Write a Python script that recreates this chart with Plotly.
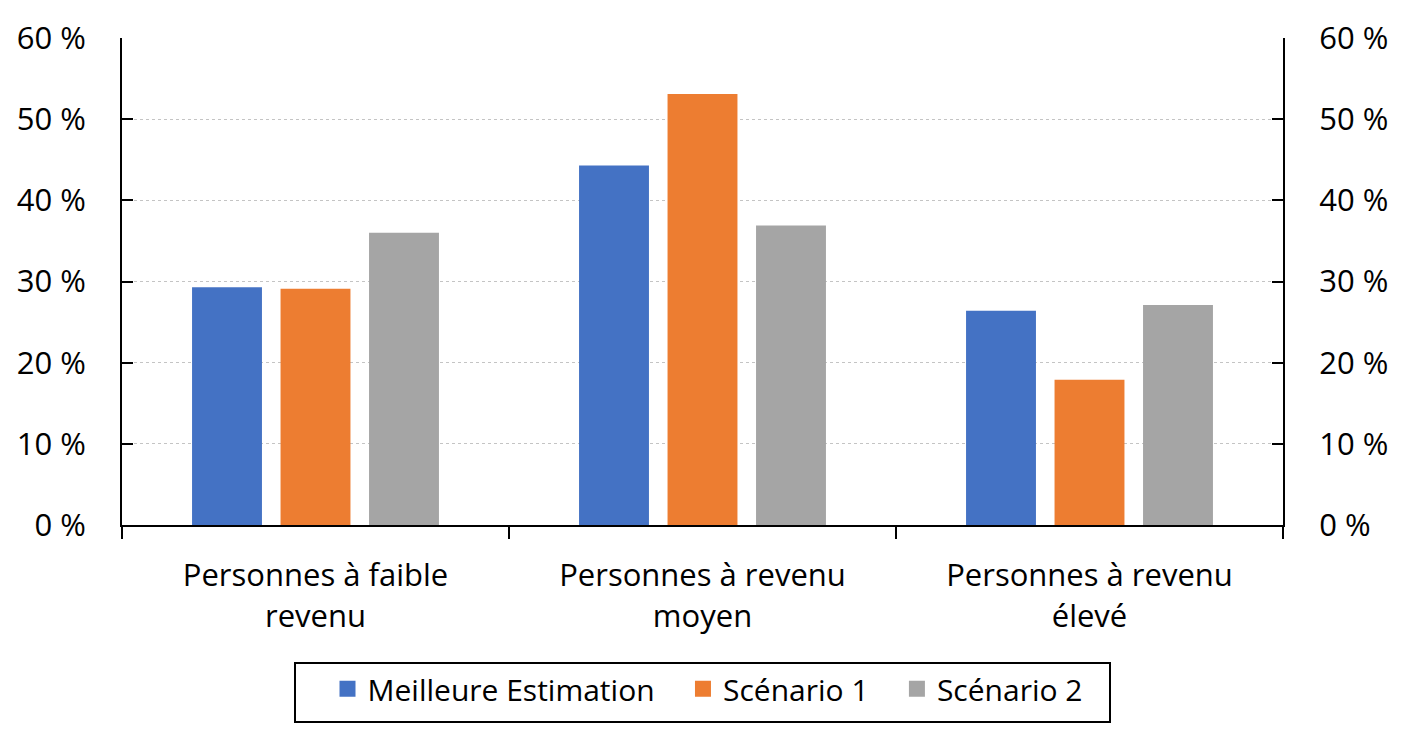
import plotly.graph_objects as go

categories = ["Personnes à faible<br>revenu", "Personnes à revenu<br>moyen", "Personnes à revenu<br>élevé"]
series_names = ["Meilleure Estimation", "Scénario 1", "Scénario 2"]
best_estimate = [29.3, 44.3, 26.4]
scenario_1 = [29.1, 53.1, 17.9]
scenario_2 = [36.0, 36.9, 27.1]
tick_values = [0, 10, 20, 30, 40, 50, 60]
tick_labels = ["0 %", "10 %", "20 %", "30 %", "40 %", "50 %", "60 %"]
colors = ["#4472C4", "#ED7D31", "#A5A5A5"]

FONT = "'Open Sans', 'Noto Sans', sans-serif"
PAD = "\u00a0\u00a0\u00a0"

fig = go.Figure()
for name, vals, col in zip(series_names, [best_estimate, scenario_1, scenario_2], colors):
    fig.add_trace(go.Bar(x=categories, y=vals, name=name, marker=dict(color=col, line=dict(width=0)),
                         showlegend=False))
for i, (name, col) in enumerate(zip(series_names, colors)):
    label = name + (PAD if i < len(series_names) - 1 else "")
    fig.add_trace(go.Scatter(x=[None], y=[None], mode="markers", name=label,
                             marker=dict(symbol="square", size=18, color=col)))
# invisible trace to display the right axis
fig.add_trace(go.Scatter(x=categories, y=best_estimate, yaxis="y2", mode="markers",
                         marker=dict(opacity=0), showlegend=False, hoverinfo="skip"))

plot_w = 1408 - 122 - 125
plot_h = 738 - 38 - 213

fig.update_layout(
    width=1408, height=738,
    margin=dict(l=122, r=125, t=38, b=213),
    paper_bgcolor="white", plot_bgcolor="white",
    font=dict(family=FONT, size=31, color="black"),
    barmode="group", bargap=0.314, bargroupgap=0.21,
    xaxis=dict(type="category", showline=True, linecolor="black", linewidth=2,
               ticks="outside", ticklen=12, tickwidth=2, tickcolor="black",
               tickson="boundaries", showgrid=False, ticklabelstandoff=22,
               tickfont=dict(family=FONT, size=31)),
    yaxis=dict(range=[0, 60], tickvals=tick_values, ticktext=tick_labels,
               showline=True, linecolor="black", linewidth=2,
               ticks="inside", ticklen=11, tickwidth=2, tickcolor="black",
               showgrid=True, gridcolor="#C4C4C4", griddash="3px,3px", gridwidth=1,
               zeroline=False, ticklabelstandoff=28,
               tickfont=dict(family=FONT, size=31)),
    yaxis2=dict(range=[0, 60], tickvals=tick_values, ticktext=tick_labels,
                overlaying="y", side="right",
                showline=True, linecolor="black", linewidth=2,
                ticks="inside", ticklen=11, tickwidth=2, tickcolor="black",
                showgrid=False, zeroline=False, ticklabelstandoff=28,
                tickfont=dict(family=FONT, size=31)),
    legend=dict(orientation="h", x=0.5 + 5 / plot_w, xanchor="center", y=-0.283, yanchor="top",
                borderwidth=0, bgcolor="rgba(0,0,0,0)",
                font=dict(family=FONT, size=30), itemsizing="trace",
                traceorder="normal"),
    shapes=[dict(type="rect", xref="paper", yref="paper",
                 x0=(295 - 122) / plot_w, x1=(1110 - 122) / plot_w,
                 y0=(525 - 722) / plot_h, y1=(525 - 663) / plot_h,
                 line=dict(color="black", width=2), fillcolor="rgba(0,0,0,0)", layer="above")],
)

fig.write_html("out.html", config={"displayModeBar": False},
               post_script="document.body.style.margin='0';")
